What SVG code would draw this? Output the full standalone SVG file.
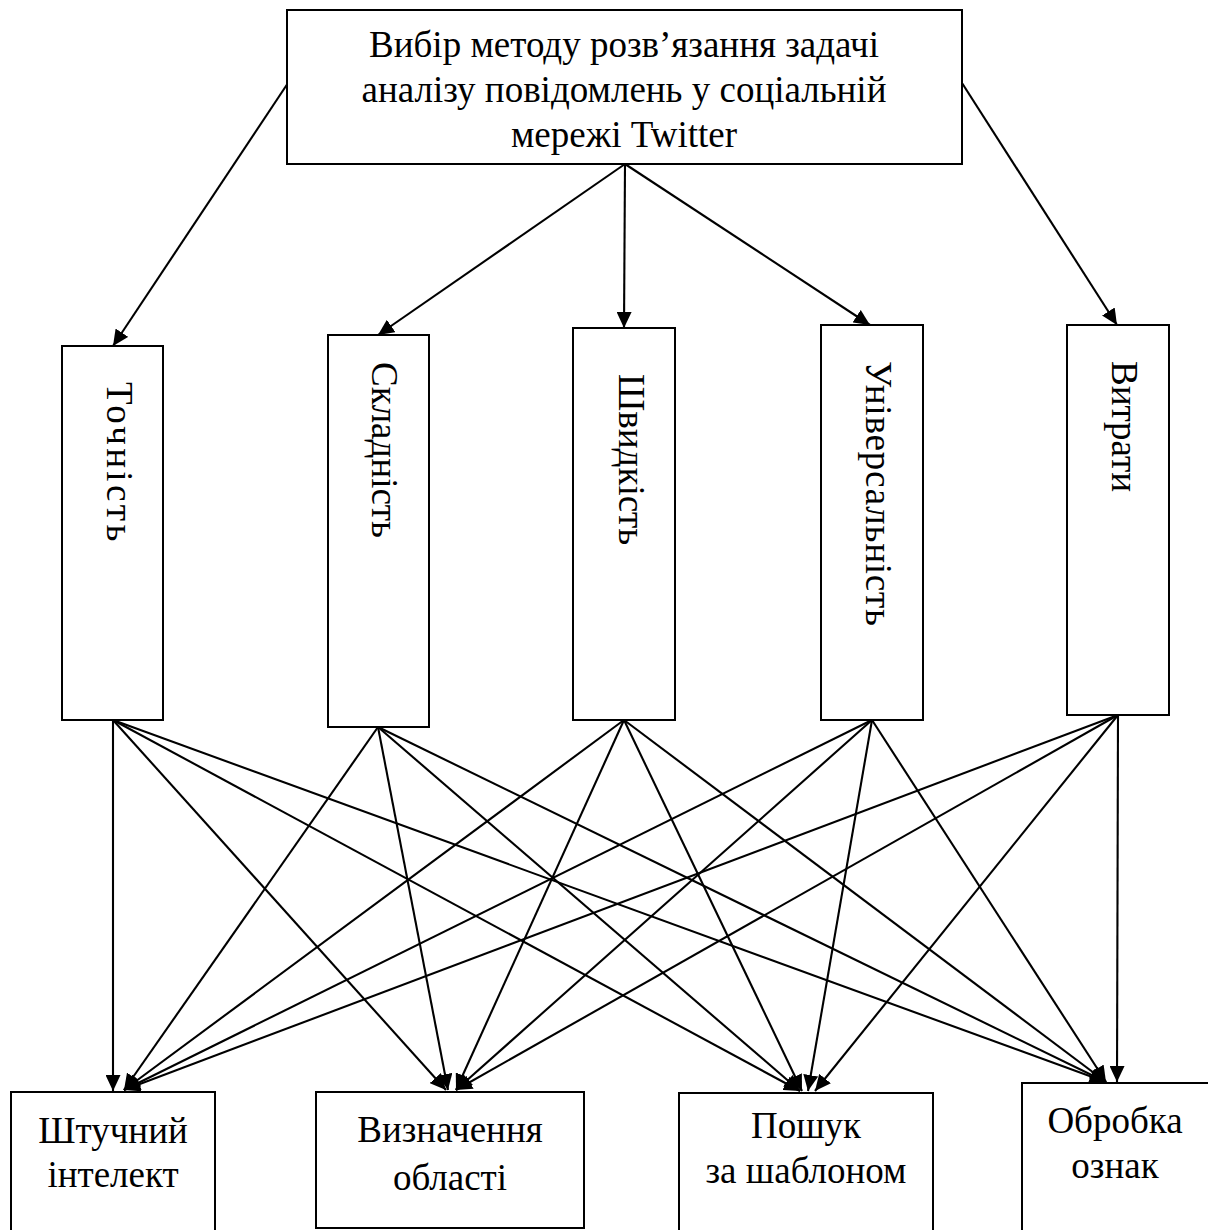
<svg xmlns="http://www.w3.org/2000/svg" width="1208" height="1230" viewBox="0 0 1208 1230">
<style>
.box{fill:#fff;stroke:#000;stroke-width:2}
.t{font-family:"Liberation Serif","Times New Roman",serif;font-size:37px;fill:#000}
.c{text-anchor:middle}
.ln{stroke:#000;stroke-width:2.1;fill:none;marker-end:url(#ah)}
</style>
<defs>
<marker id="ah" markerUnits="userSpaceOnUse" markerWidth="17" markerHeight="15" refX="16" refY="7.5" orient="auto">
<path d="M0,0 L16,7.5 L0,15 z" fill="#000"/>
</marker>
</defs>
<rect width="1208" height="1230" fill="#fff"/>
<g id="connectors">
<line class="ln" x1="288" y1="83" x2="113" y2="346"/>
<line class="ln" x1="625" y1="164" x2="378" y2="335"/>
<line class="ln" x1="625" y1="164" x2="624" y2="328"/>
<line class="ln" x1="625" y1="164" x2="870" y2="325"/>
<line class="ln" x1="962" y1="83" x2="1117" y2="325"/>
<line class="ln" x1="113" y1="720" x2="113" y2="1091"/>
<line class="ln" x1="378" y1="727" x2="124" y2="1090"/>
<line class="ln" x1="624" y1="720" x2="124" y2="1090"/>
<line class="ln" x1="872" y1="720" x2="124" y2="1090"/>
<line class="ln" x1="1118" y1="715" x2="124" y2="1090"/>
<line class="ln" x1="113" y1="720" x2="446" y2="1090"/>
<line class="ln" x1="378" y1="727" x2="448" y2="1090"/>
<line class="ln" x1="624" y1="720" x2="456" y2="1090"/>
<line class="ln" x1="872" y1="720" x2="456" y2="1090"/>
<line class="ln" x1="1118" y1="715" x2="456" y2="1090"/>
<line class="ln" x1="113" y1="720" x2="800" y2="1091"/>
<line class="ln" x1="378" y1="727" x2="800" y2="1091"/>
<line class="ln" x1="624" y1="720" x2="802" y2="1091"/>
<line class="ln" x1="872" y1="720" x2="808" y2="1091"/>
<line class="ln" x1="1118" y1="715" x2="815" y2="1091"/>
<line class="ln" x1="113" y1="720" x2="1106" y2="1082"/>
<line class="ln" x1="378" y1="727" x2="1106" y2="1082"/>
<line class="ln" x1="624" y1="720" x2="1106" y2="1082"/>
<line class="ln" x1="872" y1="720" x2="1106" y2="1082"/>
<line class="ln" x1="1118" y1="715" x2="1117" y2="1082"/>
</g>
<g id="n-top">
<rect class="box" x="287" y="10" width="675" height="154"/>
<text class="t c" x="624" y="57">Вибір методу розв’язання задачі</text>
<text class="t c" x="624" y="102">аналізу повідомлень у соціальній</text>
<text class="t c" x="624" y="147">мережі Twitter</text>
</g>
<g id="n-accuracy">
<rect class="box" x="62" y="346" width="101" height="374"/>
<text class="t" letter-spacing="3.4" transform="translate(107,382) rotate(90)">Точність</text>
</g>
<g id="n-complexity">
<rect class="box" x="328" y="335" width="101" height="392"/>
<text class="t" transform="translate(372,362) rotate(90)">Складність</text>
</g>
<g id="n-speed">
<rect class="box" x="573" y="328" width="102" height="392"/>
<text class="t" transform="translate(619,374) rotate(90)">Швидкість</text>
</g>
<g id="n-universality">
<rect class="box" x="821" y="325" width="102" height="395"/>
<text class="t" letter-spacing="0.8" transform="translate(866,361) rotate(90)">Універсальність</text>
</g>
<g id="n-costs">
<rect class="box" x="1067" y="325" width="102" height="390"/>
<text class="t" transform="translate(1112,361) rotate(90)">Витрати</text>
</g>
<g id="n-ai">
<rect class="box" x="11" y="1092" width="204" height="150"/>
<text class="t c" x="113" y="1143">Штучний</text>
<text class="t c" x="113" y="1187">інтелект</text>
</g>
<g id="n-domain">
<rect class="box" x="316" y="1092" width="268" height="136"/>
<text class="t c" x="450" y="1142">Визначення</text>
<text class="t c" x="450" y="1190">області</text>
</g>
<g id="n-pattern">
<rect class="box" x="679" y="1093" width="254" height="150"/>
<text class="t c" x="806" y="1138">Пошук</text>
<text class="t c" x="806" y="1183">за шаблоном</text>
</g>
<g id="n-features">
<rect class="box" x="1022" y="1083" width="200" height="160"/>
<text class="t c" x="1115" y="1133">Обробка</text>
<text class="t c" x="1115" y="1178">ознак</text>
</g>
</svg>
